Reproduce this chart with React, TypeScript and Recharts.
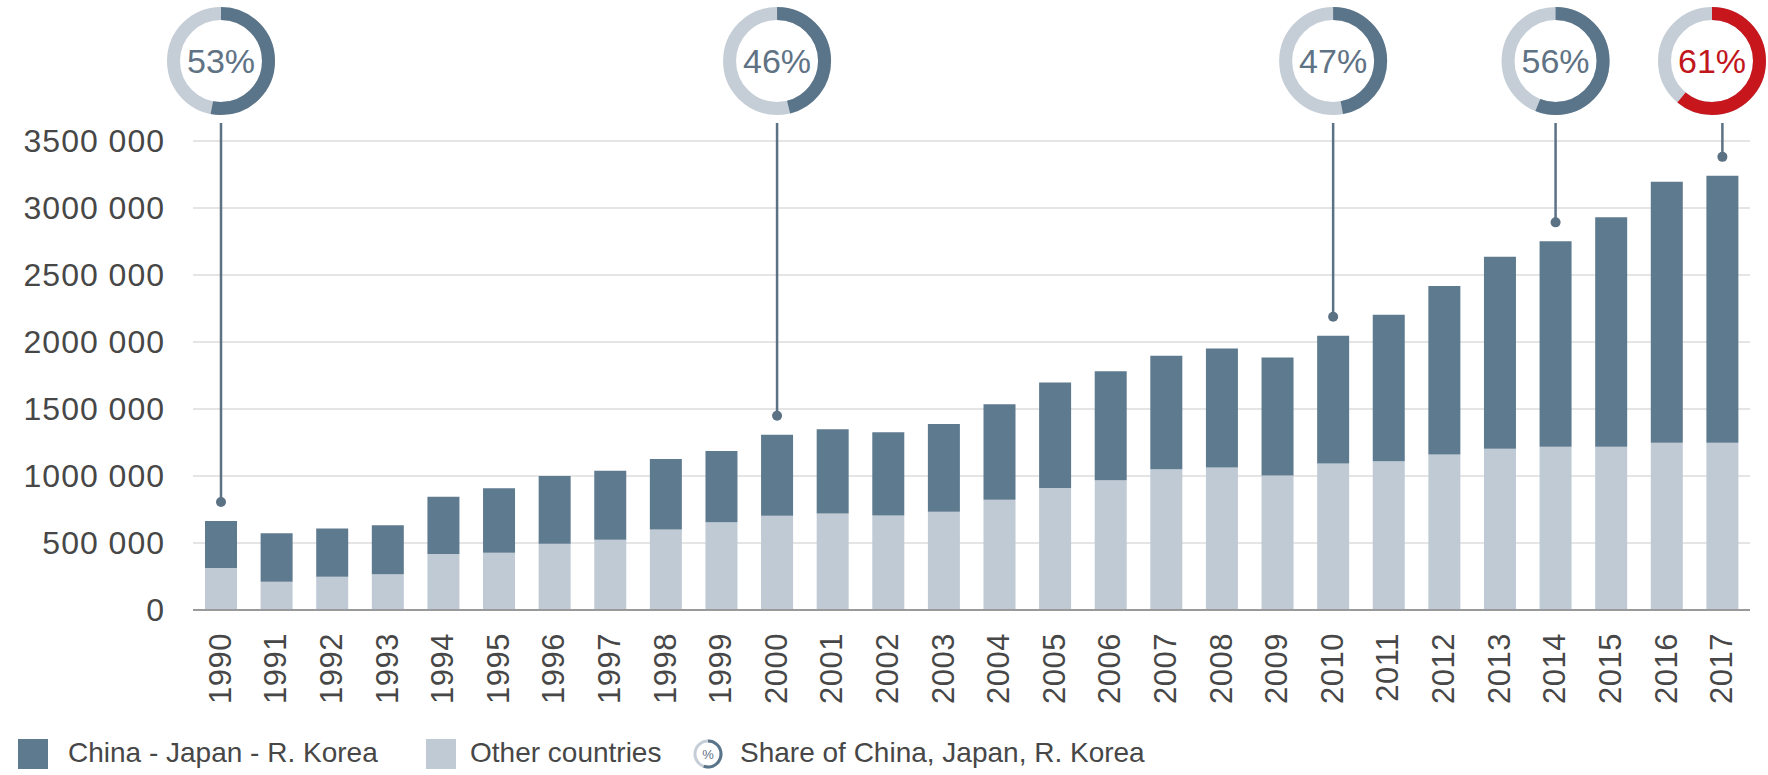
import { BarChart, Bar, XAxis, YAxis, CartesianGrid, LabelList } from 'recharts';

const YEARS = [
  '1990', '1991', '1992', '1993', '1994', '1995', '1996', '1997', '1998', '1999',
  '2000', '2001', '2002', '2003', '2004', '2005', '2006', '2007', '2008', '2009',
  '2010', '2011', '2012', '2013', '2014', '2015', '2016', '2017',
];

const OTHER_COUNTRIES = [
  314000, 211000, 249000, 266000, 418000, 428000, 495000, 524000, 600000, 654000,
  704000, 721000, 706000, 734000, 823000, 910000, 968000, 1051000, 1063000, 1003000,
  1093000, 1111000, 1160000, 1203000, 1218000, 1218000, 1248000, 1248000,
];

const CHINA_JAPAN_KOREA = [
  350000, 361000, 360000, 366000, 428000, 480000, 505000, 516000, 527000, 533000,
  604000, 627000, 620000, 654000, 712000, 787000, 813000, 846000, 889000, 882000,
  954000, 1093000, 1258000, 1434000, 1533000, 1713000, 1947000, 1992000,
];

const SHARE_YEARS = ['1990', '2000', '2010', '2014', '2017'];
const SHARE_VALUES = [53, 46, 47, 56, 61];

const Y_TICKS = [0, 500000, 1000000, 1500000, 2000000, 2500000, 3000000, 3500000];

const CHART_W = 1768;
const FONT = '"Liberation Sans", Arial, Helvetica, sans-serif';
const DARK = '#5e7a8f';
const LIGHT = '#bfcad4';
const TEXT = '#474747';

const data = YEARS.map((year, i) => ({
  year,
  other: OTHER_COUNTRIES[i],
  cjk: CHINA_JAPAN_KOREA[i],
}));

const formatTick = (v: number) => (v === 0 ? '0' : `${Math.round(v / 1000)} 000`);

function YearTick(props: any) {
  const { x, y, payload } = props;
  return (
    <g transform={`translate(${x},${y})`}>
      <text
        transform="rotate(-90)"
        textAnchor="end"
        dy="0.32em"
        fontSize={31}
        fontFamily={FONT}
        fill={TEXT}
        letterSpacing={0.5}
      >
        {payload.value}
      </text>
    </g>
  );
}

// donut + leader line over the selected years
function ShareMarker(props: any) {
  const vb = props.viewBox ?? props;
  const x = props.x ?? vb.x;
  const y = props.y ?? vb.y;
  const width = props.width ?? vb.width;
  const k = SHARE_YEARS.indexOf(YEARS[props.index]);
  if (k < 0) return null;
  const cx = x + width / 2;
  const share = SHARE_VALUES[k];
  const last = k === SHARE_YEARS.length - 1;
  const ringX = Math.min(cx, CHART_W - 56);
  const ringY = 61;
  const r = 47.5;
  const circ = 2 * Math.PI * r;
  return (
    <g>
      <line x1={cx} y1={123} x2={cx} y2={y - 19} stroke="#5b7184" strokeWidth={2.5} />
      <circle cx={cx} cy={y - 19} r={5} fill="#5b7184" />
      <circle cx={ringX} cy={ringY} r={r} fill="#fff" stroke="#c5ced7" strokeWidth={13} />
      <circle
        cx={ringX}
        cy={ringY}
        r={r}
        fill="none"
        stroke={last ? '#c8161d' : '#5a7489'}
        strokeWidth={13}
        strokeDasharray={`${(circ * share) / 100} ${circ}`}
        transform={`rotate(-90 ${ringX} ${ringY})`}
      />
      <text
        x={ringX}
        y={ringY}
        textAnchor="middle"
        dominantBaseline="central"
        fontSize={34}
        fontFamily={FONT}
        fill={last ? '#c0161c' : '#5f7385'}
      >
        {share}%
      </text>
    </g>
  );
}

function Legend() {
  const label = { position: 'absolute' as const, top: 736, fontSize: 28, fontFamily: FONT, color: TEXT, lineHeight: '34px' };
  return (
    <>
      <div style={{ position: 'absolute', left: 18, top: 739, width: 30, height: 30, background: DARK }} />
      <div style={{ ...label, left: 68 }}>China - Japan - R. Korea</div>
      <div style={{ position: 'absolute', left: 426, top: 739, width: 30, height: 30, background: LIGHT }} />
      <div style={{ ...label, left: 470 }}>Other countries</div>
      <svg style={{ position: 'absolute', left: 692, top: 738 }} width={32} height={32}>
        <circle cx={16} cy={16} r={13} fill="#fff" stroke="#c5ced7" strokeWidth={3} />
        <circle
          cx={16}
          cy={16}
          r={13}
          fill="none"
          stroke="#5a7489"
          strokeWidth={3}
          strokeDasharray={`${2 * Math.PI * 13 * 0.55} 100`}
          transform="rotate(-90 16 16)"
        />
        <text x={16} y={16} textAnchor="middle" dominantBaseline="central" fontSize={13} fontFamily={FONT} fill="#5f7385">
          %
        </text>
      </svg>
      <div style={{ ...label, left: 740 }}>Share of China, Japan, R. Korea</div>
    </>
  );
}

export default function App() {
  return (
    <div style={{ position: 'absolute', left: 0, top: 0, width: CHART_W, height: 775, background: '#fff' }}>
      <BarChart
        width={CHART_W}
        height={720}
        data={data}
        margin={{ top: 141, right: 18, left: 0, bottom: 0 }}
      >
        <CartesianGrid vertical={false} stroke="#dcdcdc" strokeWidth={1.5} />
        <XAxis
          dataKey="year"
          interval={0}
          height={110}
          tickLine={false}
          tickSize={0}
          tickMargin={23}
          axisLine={{ stroke: '#9a9a9a', strokeWidth: 2 }}
          tick={(p: any) => <YearTick {...p} />}
        />
        <YAxis
          width={193}
          domain={[0, 3500000]}
          ticks={Y_TICKS}
          tickFormatter={formatTick}
          axisLine={false}
          tickLine={false}
          tickSize={0}
          tickMargin={28}
          tick={{ fontSize: 32, fontFamily: FONT, fill: TEXT, letterSpacing: 1 }}
        />
        <Bar dataKey="other" stackId="a" fill={LIGHT} barSize={32} isAnimationActive={false} />
        <Bar dataKey="cjk" stackId="a" fill={DARK} barSize={32} isAnimationActive={false}>
          <LabelList dataKey="cjk" content={(p: any) => <ShareMarker {...p} />} />
        </Bar>
      </BarChart>
      <Legend />
    </div>
  );
}
